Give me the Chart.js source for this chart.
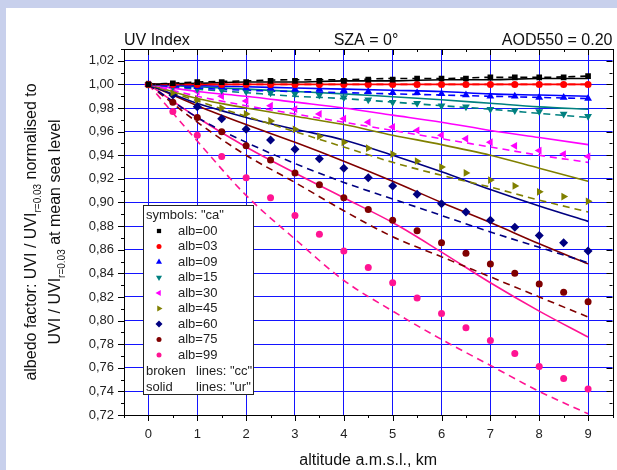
<!DOCTYPE html>
<html>
<head>
<meta charset="utf-8">
<script src="https://cdn.jsdelivr.net/npm/chart.js@4.4.1/dist/chart.umd.min.js"></script>
<style>
  body { margin: 0; background: #c8d0ec; }
  #wrap { position: absolute; left: 0; top: 0; width: 617px; height: 470px; }
</style>
</head>
<body>
<div id="wrap"><canvas id="albChart" width="617" height="470"></canvas></div>
<script>
// altitudes (km) of the "ca" symbols and of the "cc"/"ur" lines
const altKm = [0, 0.5, 1, 1.5, 2, 2.5, 3, 3.5, 4, 4.5, 5, 5.5, 6, 6.5, 7, 7.5, 8, 8.5, 9];
const lineKm = [0, 1, 2, 3, 4, 5, 6, 7, 8, 9];
const xTicks = [0, 1, 2, 3, 4, 5, 6, 7, 8, 9];
const yTicks = [0.72, 0.74, 0.76, 0.78, 0.80, 0.82, 0.84, 0.86, 0.88, 0.90, 0.92, 0.94, 0.96, 0.98, 1.00, 1.02];
const albLabels = ['alb=00', 'alb=03', 'alb=09', 'alb=15', 'alb=30', 'alb=45', 'alb=60', 'alb=75', 'alb=99'];

// symbols: "ca"
const ca00 = [1.000, 1.001, 1.002, 1.002, 1.002, 1.003, 1.003, 1.003, 1.003, 1.004, 1.004, 1.005, 1.005, 1.005, 1.006, 1.006, 1.006, 1.006, 1.007];
const ca03 = [1.000, 1.000, 1.000, 1.000, 1.000, 1.000, 1.000, 1.000, 1.000, 1.000, 1.000, 1.000, 1.000, 1.000, 1.000, 1.000, 1.000, 1.000, 1.000];
const ca09 = [1.000, 0.999, 0.998, 0.998, 0.997, 0.997, 0.996, 0.996, 0.995, 0.994, 0.993, 0.993, 0.992, 0.991, 0.990, 0.990, 0.989, 0.989, 0.988];
const ca15 = [1.000, 0.998, 0.996, 0.995, 0.994, 0.993, 0.992, 0.991, 0.989, 0.987, 0.985, 0.984, 0.982, 0.981, 0.979, 0.978, 0.977, 0.975, 0.973];
const ca30 = [1.000, 0.997, 0.994, 0.990, 0.986, 0.982, 0.979, 0.975, 0.971, 0.968, 0.964, 0.961, 0.957, 0.954, 0.951, 0.948, 0.944, 0.941, 0.939];
const ca45 = [1.000, 0.993, 0.987, 0.980, 0.975, 0.969, 0.962, 0.956, 0.951, 0.946, 0.941, 0.935, 0.930, 0.925, 0.919, 0.914, 0.909, 0.905, 0.901];
const ca60 = [1.000, 0.991, 0.981, 0.971, 0.962, 0.953, 0.945, 0.937, 0.929, 0.921, 0.914, 0.907, 0.899, 0.892, 0.885, 0.879, 0.872, 0.866, 0.859];
const ca75 = [1.000, 0.985, 0.972, 0.960, 0.948, 0.936, 0.925, 0.915, 0.904, 0.894, 0.885, 0.876, 0.866, 0.857, 0.848, 0.840, 0.831, 0.824, 0.816];
const ca99 = [1.000, 0.977, 0.957, 0.939, 0.921, 0.904, 0.889, 0.873, 0.859, 0.845, 0.832, 0.819, 0.806, 0.794, 0.783, 0.772, 0.761, 0.751, 0.742];

// broken lines: "cc"
const cc00 = [1.000, 1.002, 1.003, 1.004, 1.004, 1.005, 1.005, 1.006, 1.006, 1.007];
const cc03 = [1.000, 1.000, 1.000, 1.000, 1.000, 1.000, 1.000, 1.000, 1.000, 1.000];
const cc09 = [1.000, 0.997, 0.995, 0.994, 0.993, 0.992, 0.991, 0.990, 0.989, 0.988];
const cc15 = [1.000, 0.996, 0.993, 0.990, 0.988, 0.985, 0.982, 0.979, 0.9755, 0.972];
const cc30 = [1.000, 0.990, 0.982, 0.975, 0.968, 0.961, 0.954, 0.947, 0.940, 0.934];
const cc45 = [1.000, 0.986, 0.973, 0.960, 0.947, 0.934, 0.923, 0.913, 0.902, 0.892];
const cc60 = [1.000, 0.972, 0.951, 0.933, 0.917, 0.903, 0.889, 0.875, 0.862, 0.849];
const cc75 = [1.000, 0.968, 0.940, 0.917, 0.893, 0.871, 0.854, 0.837, 0.820, 0.803];
const cc99 = [1.000, 0.952, 0.906, 0.869, 0.834, 0.808, 0.784, 0.762, 0.740, 0.721];

// solid lines: "ur"
const ur00 = [1.000, 1.001, 1.002, 1.002, 1.003, 1.003, 1.004, 1.004, 1.005, 1.005];
const ur03 = [1.000, 1.000, 1.000, 1.000, 1.000, 1.000, 1.000, 1.000, 1.000, 1.000];
const ur09 = [1.000, 0.999, 0.998, 0.997, 0.996, 0.995, 0.994, 0.992, 0.991, 0.990];
const ur15 = [1.000, 0.998, 0.996, 0.994, 0.992, 0.9895, 0.987, 0.984, 0.981, 0.979];
const ur30 = [1.000, 0.994, 0.990, 0.985, 0.980, 0.974, 0.968, 0.961, 0.955, 0.949];
const ur45 = [1.000, 0.988, 0.980, 0.973, 0.966, 0.957, 0.949, 0.940, 0.929, 0.918];
const ur60 = [1.000, 0.984, 0.972, 0.962, 0.953, 0.940, 0.926, 0.911, 0.897, 0.884];
const ur75 = [1.000, 0.982, 0.966, 0.951, 0.935, 0.918, 0.900, 0.883, 0.865, 0.848];
const ur99 = [1.000, 0.972, 0.947, 0.925, 0.904, 0.883, 0.858, 0.832, 0.808, 0.786];

const caSets = [ca00, ca03, ca09, ca15, ca30, ca45, ca60, ca75, ca99];
const ccSets = [cc00, cc03, cc09, cc15, cc30, cc45, cc60, cc75, cc99];
const urSets = [ur00, ur03, ur09, ur15, ur30, ur45, ur60, ur75, ur99];

const colors = ['#000000', '#ff0000', '#0000ff', '#008080', '#ff00ff', '#808000', '#000080', '#800000', '#ff1493'];
const shapes = ['rect', 'circle', 'triangle', 'triangle', 'triangle', 'triangle', 'rectRot', 'circle', 'circle'];
const rots = [0, 0, 0, 180, 270, 90, 0, 0, 0];
const radii = [4, 3.5, 4.5, 4.5, 4.5, 4.5, 4.5, 3.5, 3.5];

const FONT = '"Liberation Sans", Arial, sans-serif';

const toXY = (xs, ys) => xs.map((x, i) => ({ x: x, y: ys[i] }));

const datasets = [];
// symbols first so they are painted on top of the lines
caSets.forEach((s, i) => datasets.push({
    label: albLabels[i] + ' ca', data: toXY(altKm, s), showLine: false,
    pointStyle: shapes[i], pointRotation: rots[i], pointRadius: radii[i],
    backgroundColor: colors[i], borderColor: colors[i], borderWidth: 0
}));
ccSets.forEach((s, i) => datasets.push({
    label: albLabels[i] + ' cc', data: toXY(lineKm, s), pointRadius: 0,
    borderColor: colors[i], borderWidth: 1.6, borderDash: [7, 5], cubicInterpolationMode: 'monotone'
}));
urSets.forEach((s, i) => datasets.push({
    label: albLabels[i] + ' ur', data: toXY(lineKm, s), pointRadius: 0,
    borderColor: colors[i], borderWidth: 1.6, cubicInterpolationMode: 'monotone'
}));

// white panel on the lavender frame
const panelBg = {
    id: 'panelBg',
    beforeDraw(chart) {
        const ctx = chart.ctx;
        ctx.save();
        ctx.fillStyle = '#ffffff';
        ctx.fillRect(6, 8, chart.width - 6, chart.height - 8);
        ctx.restore();
    }
};

// frame, minor ticks, titles, legend box
const decor = {
    id: 'decor',
    afterDraw(chart) {
        const ctx = chart.ctx;
        const a = chart.chartArea;
        const xs = chart.scales.x, ys = chart.scales.y;
        ctx.save();
        ctx.strokeStyle = '#000';
        ctx.lineWidth = 1;
        ctx.strokeRect(Math.round(a.left) + 0.5, Math.round(a.top) + 0.5, Math.round(a.right - a.left), Math.round(a.bottom - a.top));

        ctx.beginPath();
        for (let v = -0.5; v <= 9.5; v += 0.5) {
            const px = Math.round(xs.getPixelForValue(v)) + 0.5;
            const len = Number.isInteger(v) ? 6 : 3;
            ctx.moveTo(px, a.bottom); ctx.lineTo(px, a.bottom + len);
            ctx.moveTo(px, a.top); ctx.lineTo(px, a.top + len);
        }
        for (let k = 72; k <= 103; k++) {
            const py = Math.round(ys.getPixelForValue(k / 100)) + 0.5;
            const len = k % 2 === 0 ? 6 : 3;
            ctx.moveTo(a.left, py); ctx.lineTo(a.left - len, py);
            ctx.moveTo(a.right, py); ctx.lineTo(a.right - len, py);
        }
        ctx.stroke();

        // top titles
        ctx.fillStyle = '#111';
        ctx.font = '16px ' + FONT;
        ctx.textBaseline = 'alphabetic';
        ctx.textAlign = 'left'; ctx.fillText('UV Index', a.left, 45);
        ctx.textAlign = 'center'; ctx.fillText('SZA = 0°', 366, 45);
        ctx.textAlign = 'right'; ctx.fillText('AOD550 = 0.20', a.right, 45);

        // x title
        ctx.textAlign = 'center';
        ctx.fillText('altitude a.m.s.l., km', (a.left + a.right) / 2, 465);

        // y title, two rotated lines with subscripts
        const yMid = (a.top + a.bottom) / 2;
        const drawRot = (cx, parts) => {
            ctx.save();
            ctx.translate(cx, yMid);
            ctx.rotate(-Math.PI / 2);
            ctx.textAlign = 'left';
            ctx.textBaseline = 'middle';
            let w = 0;
            parts.forEach(p => { ctx.font = (p.sub ? '10px ' : '16px ') + FONT; w += ctx.measureText(p.t).width; });
            let x = -w / 2;
            parts.forEach(p => {
                ctx.font = (p.sub ? '10px ' : '16px ') + FONT;
                ctx.fillText(p.t, x, p.sub ? 6 : 0);
                x += ctx.measureText(p.t).width;
            });
            ctx.restore();
        };
        drawRot(32, [{ t: 'albedo factor: UVI / UVI' }, { t: 'r=0.03', sub: true }, { t: ' normalised to' }]);
        drawRot(56, [{ t: 'UVI / UVI' }, { t: 'r=0.03', sub: true }, { t: ' at mean sea level' }]);

        // legend box
        const bx = 143.5, by = 205.5, bw = 110, bh = 189;
        ctx.fillStyle = '#fff';
        ctx.fillRect(bx, by, bw, bh);
        ctx.strokeStyle = '#222';
        ctx.strokeRect(bx, by, bw, bh);
        ctx.fillStyle = '#222';
        ctx.font = '13px ' + FONT;
        ctx.textAlign = 'left';
        ctx.textBaseline = 'middle';
        ctx.fillText('symbols: "ca"', 146, 215);
        albLabels.forEach((lab, i) => {
            const y = 231 + i * 15.5;
            ctx.fillStyle = colors[i];
            ctx.strokeStyle = colors[i];
            Chart.helpers.drawPoint(ctx, { pointStyle: shapes[i], rotation: rots[i], radius: radii[i] - 1, borderWidth: 0 }, 159, y);
            ctx.fillStyle = '#222';
            ctx.fillText(lab, 178, y);
        });
        ctx.fillText('broken', 146, 371);
        ctx.fillText('lines: "cc"', 196, 371);
        ctx.fillText('solid', 146, 387);
        ctx.fillText('lines: "ur"', 196, 387);
        ctx.restore();
    }
};

new Chart(document.getElementById('albChart'), {
    type: 'line',
    data: { datasets: datasets },
    plugins: [panelBg, decor],
    options: {
        responsive: false,
        animation: false,
        layout: { padding: { top: 49, right: 3, left: 0, bottom: 0 } },
        plugins: { legend: { display: false }, tooltip: { enabled: false } },
        scales: {
            x: {
                type: 'linear', min: -0.5, max: 9.5,
                afterFit: s => { s.height = 55; },
                afterBuildTicks: s => { s.ticks = xTicks.map(v => ({ value: v })); },
                grid: { color: '#1414ff', lineWidth: 1, drawTicks: false },
                border: { display: false },
                ticks: { color: '#222', font: { family: FONT, size: 13 }, padding: 12, maxRotation: 0, callback: v => String(v) }
            },
            y: {
                min: 0.72, max: 1.03,
                afterFit: s => { s.width = 124; },
                afterBuildTicks: s => { s.ticks = yTicks.map(v => ({ value: v })); },
                grid: { color: '#1414ff', lineWidth: 1, drawTicks: false },
                border: { display: false },
                ticks: { color: '#222', font: { family: FONT, size: 13 }, padding: 10, callback: v => v.toFixed(2).replace('.', ',') }
            }
        }
    }
});
</script>
</body>
</html>
